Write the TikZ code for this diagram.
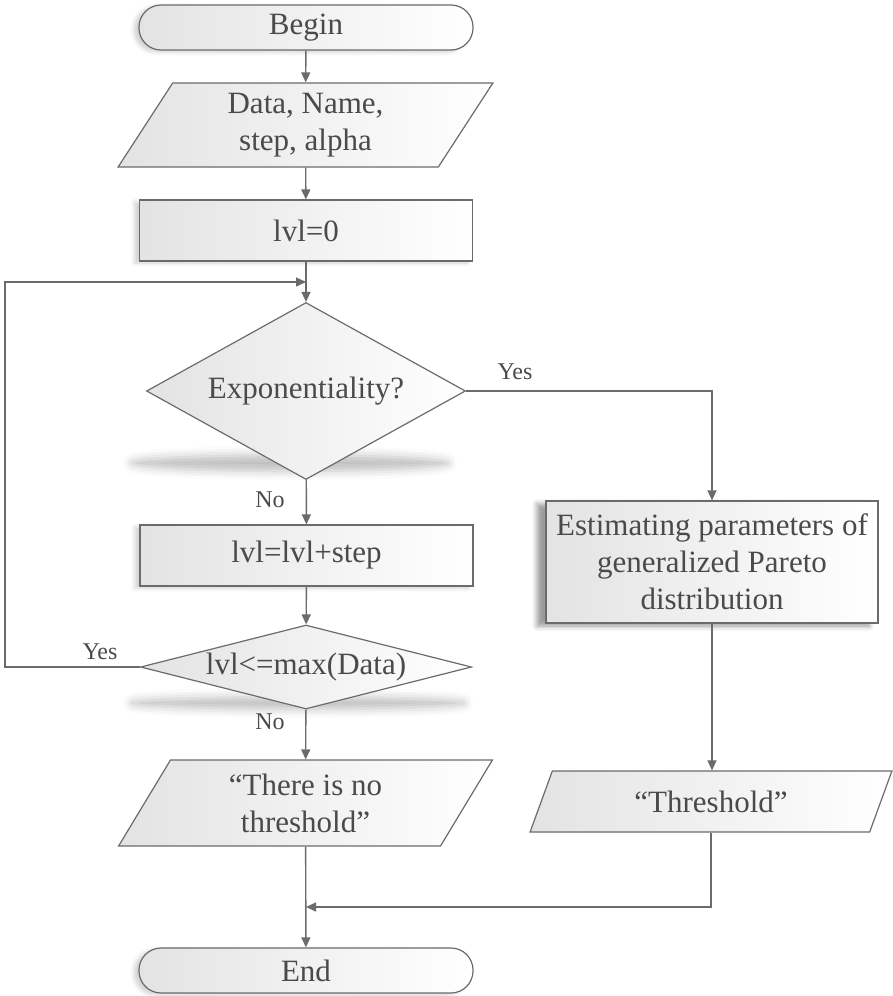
\documentclass[tikz,border=0pt]{standalone}
\usepackage{fontspec}
\setmainfont{Liberation Serif}
\usetikzlibrary{shapes.geometric,arrows.meta,shadows.blur}

\definecolor{linegray}{HTML}{6B6B6B}
\definecolor{txtgray}{HTML}{4A4A4A}
\definecolor{fillgray}{HTML}{E3E3E3}

\begin{document}
\begin{tikzpicture}[x=1pt,y=-1pt,
  every node/.style={text=txtgray, font=\fontsize{31}{37}\selectfont},
  boxbase/.style={draw=linegray, line width=1.2pt, left color=fillgray,
    right color=white, inner sep=0pt, align=center},
  softshadow/.style={blur shadow={shadow xshift=-5pt, shadow yshift=-2pt,
    shadow opacity=18, shadow blur radius=4pt}},
  terminal/.style={boxbase, softshadow, rectangle, rounded corners=22pt,
    minimum width=334pt, minimum height=45pt},
  process/.style={boxbase, softshadow, rectangle, minimum width=333pt,
    minimum height=61pt},
  iobox/.style={boxbase, trapezium, trapezium stretches=true,
    trapezium left angle=63.4, trapezium right angle=116.6,
    minimum width=375pt, minimum height=84pt},
  decision/.style={boxbase, diamond},
  groundshadow/.style={blur shadow={shadow xshift=0pt, shadow yshift=0pt,
    shadow opacity=26, shadow blur radius=9pt}},
  arr/.style={draw=linegray, line width=1.4pt,
    -{Triangle[length=10pt,width=9pt]}},
  lbl/.style={font=\fontsize{24}{28}\selectfont, inner sep=0pt}]

\useasboundingbox (0,0) rectangle (892,996);

% ground shadows under the two decisions
\path[groundshadow] (290,463) ellipse [x radius=158, y radius=8];
\path[groundshadow] (298,703) ellipse [x radius=166, y radius=6];

% left column
\node[terminal] (begin) at (306,27.5) {Begin};
\node[iobox] (data) at (305.5,125) {Data, Name,\\step, alpha};
\node[process] (lvl0) at (306,230.5) {lvl=0};
\node[decision, minimum width=319pt, minimum height=177pt, aspect=1.8]
  (expo) at (306,391) {Exponentiality?};
\node[process] (lvlstep) at (306.5,555.5) {lvl=lvl+step};
\node[decision, minimum width=331pt, minimum height=84pt, aspect=3.9]
  (cmp) at (306,667) {lvl<=max(Data)};
\node[iobox, minimum height=86pt] (nothr) at (305.5,803)
  {“There is no\\threshold”};
\node[terminal] (end) at (306,970.5) {End};

% right column
\node[process, minimum width=332pt, minimum height=122pt,
  blur shadow={shadow xshift=-9pt, shadow yshift=-3pt,
    shadow opacity=22, shadow blur radius=5pt}]
  (est) at (712,562) {Estimating parameters of\\generalized Pareto\\distribution};
\node[iobox, trapezium left angle=63.8, trapezium right angle=116.2,
  minimum width=362pt, minimum height=61pt] (thr) at (711,801.5)
  {“Threshold”};

% junction points
\coordinate (loopin) at (306,282);
\coordinate (loopx) at (5,0);
\coordinate (joinin) at (306,907);

% main flow
\draw[arr] (begin) -- (data);
\draw[arr] (data) -- (lvl0);
\draw[arr] (lvl0) -- (expo);
\draw[arr] (expo) -- (lvlstep);
\draw[arr] (lvlstep) -- (cmp);
\draw[arr] (cmp) -- (nothr);
\draw[arr] (nothr) -- (end);

% loop back
\draw[arr] (cmp.west) -| (loopx |- loopin) -- (loopin);

% exponential branch
\draw[arr] (expo.east) -| (est.north);
\draw[arr] (est.south) -- (est.south |- thr.north);
\draw[arr] (thr.south) |- (joinin);

% branch labels
\node[lbl] (yes1) at (515,372) {Yes};
\node[lbl] (no1) at (270,500) {No};
\node[lbl] (yes2) at (100,652) {Yes};
\node[lbl] (no2) at (270,722) {No};
\end{tikzpicture}
\end{document}
